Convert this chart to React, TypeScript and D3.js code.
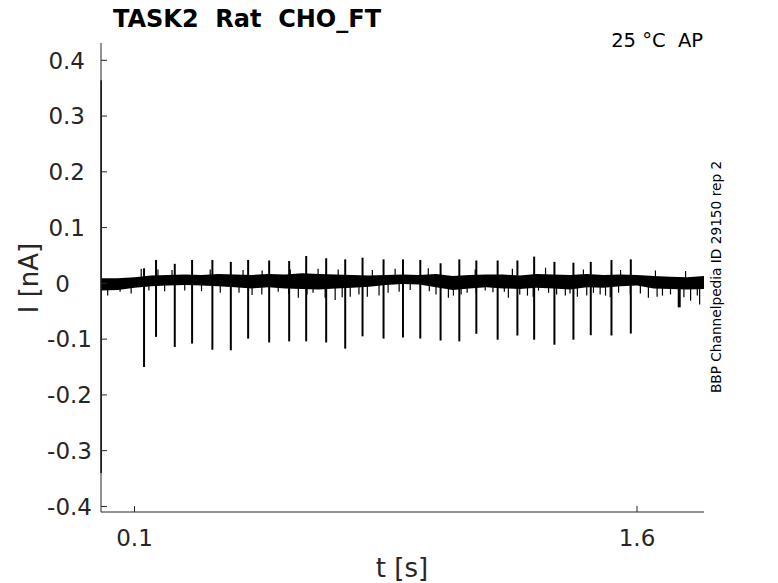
import React from "react";
import * as d3 from "d3";

const W = 778;
const H = 583;

// solid core of the baseline noise, read every 0.05 s
const bandT = [0, 0.05, 0.1, 0.15, 0.2, 0.25, 0.3, 0.35, 0.4, 0.45, 0.5, 0.55, 0.6, 0.65, 0.7, 0.75, 0.8, 0.85, 0.9, 0.95, 1.0, 1.05, 1.1, 1.15, 1.2, 1.25, 1.3, 1.35, 1.4, 1.45, 1.5, 1.55, 1.6, 1.65, 1.7, 1.75, 1.8];
const bandHi = [0.009, 0.009, 0.011, 0.014, 0.015, 0.016, 0.015, 0.017, 0.016, 0.015, 0.017, 0.016, 0.018, 0.017, 0.016, 0.015, 0.014, 0.015, 0.016, 0.015, 0.017, 0.013, 0.015, 0.016, 0.016, 0.014, 0.017, 0.016, 0.015, 0.017, 0.015, 0.016, 0.015, 0.013, 0.012, 0.011, 0.013];
const bandLo = [-0.013, -0.012, -0.008, -0.005, -0.004, -0.003, -0.004, -0.005, -0.007, -0.009, -0.007, -0.009, -0.01, -0.011, -0.009, -0.008, -0.006, -0.003, -0.001, -0.002, -0.007, -0.012, -0.009, -0.007, -0.009, -0.01, -0.008, -0.009, -0.011, -0.007, -0.008, -0.005, -0.004, -0.009, -0.01, -0.011, -0.01];

// action-current spikes: time, upward peak, downward peak
const spikeT = [0.1285, 0.1643, 0.2202, 0.2719, 0.3325, 0.3875, 0.4392, 0.502, 0.5617, 0.6125, 0.6722, 0.729, 0.7807, 0.8434, 0.9014, 0.9531, 1.0137, 1.0696, 1.1204, 1.184, 1.243, 1.293, 1.3535, 1.4102, 1.462, 1.5238, 1.5815];
const spikeUp = [0.027, 0.042, 0.035, 0.042, 0.042, 0.0385, 0.042, 0.041, 0.04, 0.049, 0.045, 0.043, 0.046, 0.043, 0.043, 0.042, 0.036, 0.043, 0.041, 0.041, 0.041, 0.048, 0.0385, 0.037, 0.0385, 0.042, 0.043];
const spikeDown = [-0.15, -0.096, -0.114, -0.108, -0.119, -0.12, -0.099, -0.106, -0.104, -0.104, -0.106, -0.117, -0.095, -0.099, -0.097, -0.099, -0.1025, -0.104, -0.0905, -0.101, -0.0935, -0.101, -0.11, -0.101, -0.093, -0.0935, -0.09];

// small downward glitches below the noise band
const dipT = [0.02, 0.057, 0.09, 0.143, 0.19, 0.25, 0.3, 0.356, 0.412, 0.451, 0.48, 0.529, 0.56, 0.589, 0.615, 0.633, 0.669, 0.699, 0.72, 0.744, 0.77, 0.795, 0.83, 0.857, 0.89, 0.923, 0.98, 1.0, 1.037, 1.052, 1.075, 1.093, 1.12, 1.147, 1.17, 1.204, 1.216, 1.25, 1.273, 1.29, 1.306, 1.336, 1.36, 1.386, 1.4, 1.422, 1.45, 1.47, 1.49, 1.506, 1.52, 1.545, 1.58, 1.61, 1.634, 1.66, 1.676, 1.7, 1.726, 1.74, 1.76, 1.78, 1.787];
const dipV = [-0.022, -0.015, -0.018, -0.013, -0.014, -0.013, -0.014, -0.017, -0.017, -0.021, -0.02, -0.015, -0.019, -0.026, -0.02, -0.017, -0.026, -0.03, -0.025, -0.024, -0.02, -0.024, -0.022, -0.017, -0.015, -0.012, -0.014, -0.02, -0.026, -0.022, -0.02, -0.017, -0.018, -0.013, -0.016, -0.015, -0.026, -0.02, -0.022, -0.024, -0.013, -0.017, -0.02, -0.022, -0.018, -0.024, -0.022, -0.017, -0.02, -0.022, -0.025, -0.017, -0.02, -0.018, -0.026, -0.024, -0.022, -0.02, -0.043, -0.025, -0.031, -0.022, -0.038];

// small upward glitches above the noise band
const bumpT = [0.12, 0.17, 0.212, 0.326, 0.424, 0.481, 0.565, 0.648, 0.708, 0.81, 0.878, 0.977, 1.117, 1.228, 1.327, 1.44, 1.551, 1.655, 1.745];
const bumpV = [0.026, 0.025, 0.024, 0.025, 0.024, 0.023, 0.025, 0.026, 0.025, 0.024, 0.026, 0.027, 0.025, 0.026, 0.028, 0.025, 0.024, 0.023, 0.022];

// capacitive transient at the very start
const transientT = 0.0005;
const transientHi = 0.364;
const transientLo = -0.34;

const yTicks = [-0.4, -0.3, -0.2, -0.1, 0, 0.1, 0.2, 0.3, 0.4];
const xTicks = [0.1, 1.6];

const axisColor = "#262626";
const font = "DejaVu Sans, sans-serif";

function App() {
  const x = d3.scaleLinear().domain([0, 1.8]).range([101, 704]);
  const y = d3.scaleLinear().domain([-0.41, 0.431]).range([512, 43]);

  const band = d3
    .area<number>()
    .x((d, i) => x(bandT[i]))
    .y0((d, i) => y(bandLo[i]))
    .y1((d, i) => y(bandHi[i]));

  const loAt = d3.scaleLinear().domain(bandT).range(bandLo);
  const hiAt = d3.scaleLinear().domain(bandT).range(bandHi);

  return (
    <svg width={W} height={H} style={{ position: "absolute", left: 0, top: 0, background: "#fff" }}>
      {/* trace */}
      <path d={band(bandT) || ""} fill="#000" />
      {dipT.map((t, i) => (
        <line
          key={"d" + i}
          x1={x(t)}
          x2={x(t)}
          y1={y(loAt(t) + 0.003)}
          y2={y(dipV[i])}
          stroke="#000"
          strokeWidth={dipV[i] < -0.04 ? 3 : 1.2}
        />
      ))}
      {bumpT.map((t, i) => (
        <line
          key={"b" + i}
          x1={x(t)}
          x2={x(t)}
          y1={y(hiAt(t) - 0.003)}
          y2={y(bumpV[i])}
          stroke="#000"
          strokeWidth={1.2}
        />
      ))}
      {spikeT.map((t, i) => (
        <line
          key={"s" + i}
          x1={x(t)}
          x2={x(t)}
          y1={y(spikeUp[i])}
          y2={y(spikeDown[i])}
          stroke="#000"
          strokeWidth={2}
        />
      ))}
      <line x1={x(transientT)} x2={x(transientT)} y1={y(transientHi)} y2={y(transientLo)} stroke="#000" strokeWidth={1.5} />

      {/* axes */}
      <line x1={101} x2={101} y1={43} y2={512} stroke={axisColor} strokeWidth={1} />
      <line x1={101} x2={704} y1={512} y2={512} stroke={axisColor} strokeWidth={1} />
      {yTicks.map((v) => {
        const label = String(Math.round(v * 10) / 10);
        const endX = v === 0 ? 70 : v < 0 ? 92 : 85;
        return (
          <g key={"y" + v}>
            <line x1={101} x2={107} y1={y(v)} y2={y(v)} stroke={axisColor} />
            <text x={endX} y={y(v)} dy="0.36em" textAnchor="end" fontSize={23} fontFamily={font} fill={axisColor}>
              {label}
            </text>
          </g>
        );
      })}
      {xTicks.map((v) => (
        <g key={"x" + v}>
          <line x1={x(v)} x2={x(v)} y1={512} y2={506} stroke={axisColor} />
          <text x={x(v)} y={546} textAnchor="middle" fontSize={23} fontFamily={font} fill={axisColor}>
            {v}
          </text>
        </g>
      ))}

      <text x={402} y={577} textAnchor="middle" fontSize={26} fontFamily={font} fill={axisColor}>
        t [s]
      </text>
      <text transform="translate(38,278) rotate(-90)" textAnchor="middle" fontSize={26} fontFamily={font} fill={axisColor}>
        I [nA]
      </text>

      <text x={247} y={27} textAnchor="middle" fontSize={24} fontWeight="bold" fontFamily={font} fill="#000" style={{ whiteSpace: "pre" }}>
        {"TASK2  Rat  CHO_FT"}
      </text>
      <text x={703} y={47} textAnchor="end" fontSize={19.5} fontFamily={font} fill="#000" style={{ whiteSpace: "pre" }}>
        {"25 °C  AP"}
      </text>
      <text transform="translate(721,277) rotate(-90)" textAnchor="middle" fontSize={13.7} fontFamily={font} fill="#000">
        BBP Channelpedia ID 29150 rep 2
      </text>
    </svg>
  );
}

export default App;
